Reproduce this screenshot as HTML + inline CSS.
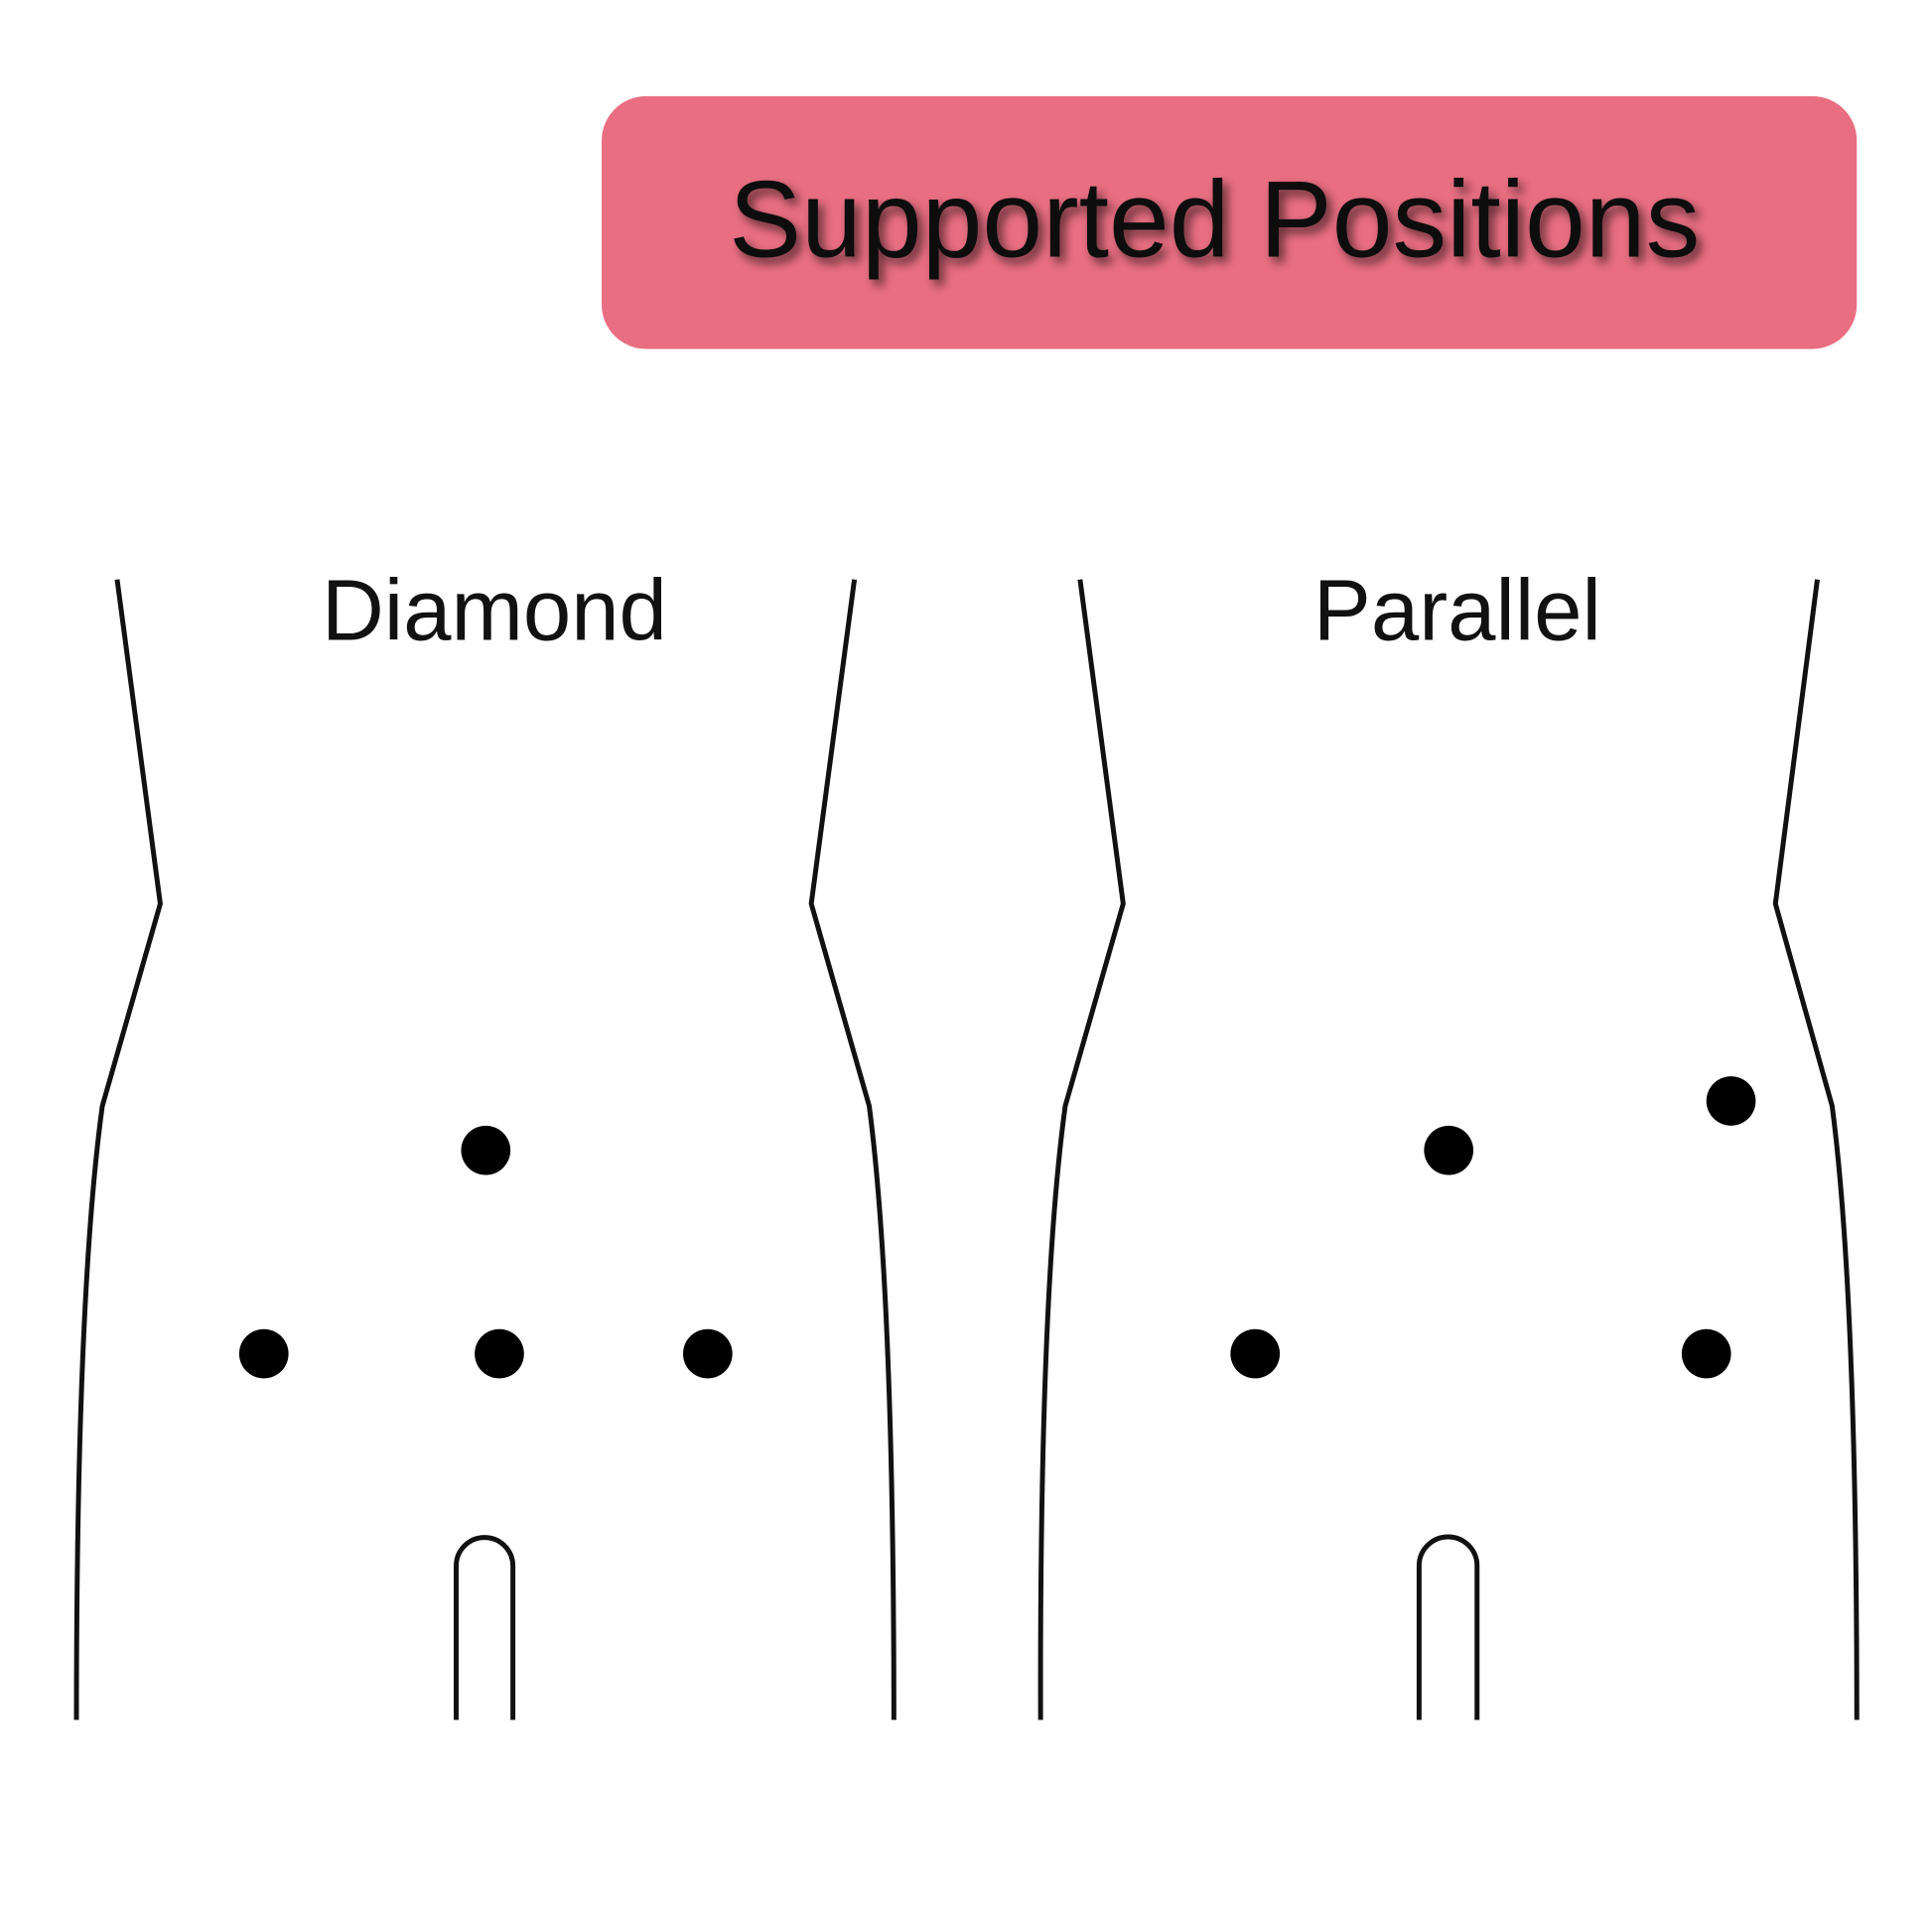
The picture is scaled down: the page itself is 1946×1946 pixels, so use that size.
<!DOCTYPE html>
<html><head><meta charset="utf-8"><style>
html,body{margin:0;padding:0;background:#fff;}
svg{display:block;}
</style></head><body>
<svg width="1946" height="1946" viewBox="0 0 1567 1567" xmlns="http://www.w3.org/2000/svg">
<defs>
<filter id="sh" x="-10%" y="-30%" width="120%" height="160%">
<feGaussianBlur in="SourceAlpha" stdDeviation="4"/>
<feOffset dx="4" dy="5" result="o"/>
<feComponentTransfer><feFuncA type="linear" slope="0.6"/></feComponentTransfer>
<feMerge><feMergeNode/><feMergeNode in="SourceGraphic"/></feMerge>
</filter>
</defs>
<rect x="488" y="78" width="1018" height="205" rx="36" fill="#e96e82"/>
<text x="985" y="208" text-anchor="middle" font-family="Liberation Sans, sans-serif" font-size="88" fill="#111" filter="url(#sh)">Supported Positions</text>
<text x="401" y="519" text-anchor="middle" font-family="Liberation Sans, sans-serif" font-size="70" fill="#111">Diamond</text>
<text x="1182" y="519" text-anchor="middle" font-family="Liberation Sans, sans-serif" font-size="70" fill="#111">Parallel</text>
<g fill="none" stroke="#111" stroke-width="4">
<path d="M95 470 L130 733 L83 897 Q62 1050 62 1395"/>
<path d="M693 470 L658 733 L705 897 Q725 1050 725 1395"/>
<path d="M370 1395 L370 1270 A23 23 0 0 1 416 1270 L416 1395"/>
<path d="M876 470 L911 733 L864 897 Q843 1050 844 1395"/>
<path d="M1474 470 L1440 733 L1486 897 Q1506 1050 1506 1395"/>
<path d="M1151 1395 L1151 1270 A23.5 23.5 0 0 1 1198 1270 L1198 1395"/>
</g>
<g fill="#000">
<circle cx="394" cy="933" r="20"/>
<circle cx="214" cy="1098" r="20"/>
<circle cx="405" cy="1098" r="20"/>
<circle cx="574" cy="1098" r="20"/>
<circle cx="1175" cy="933" r="20"/>
<circle cx="1404" cy="893" r="20"/>
<circle cx="1018" cy="1098" r="20"/>
<circle cx="1384" cy="1098" r="20"/>
</g>
</svg>
</body></html>
